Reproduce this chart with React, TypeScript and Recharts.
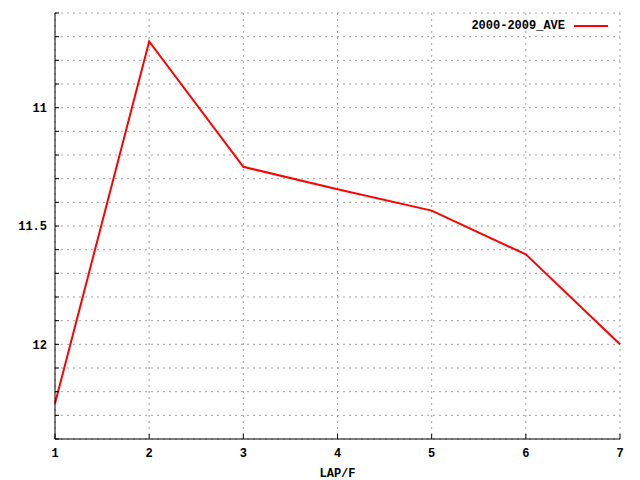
import React from "react";
import {
  LineChart,
  Line,
  XAxis,
  YAxis,
  CartesianGrid,
  Legend,
} from "recharts";

const FONT = "'Liberation Mono', 'DejaVu Sans Mono', monospace";

// laps on the x axis and the 2000-2009 average
const laps = [1, 2, 3, 4, 5, 6, 7];
const ave = [12.25, 10.72, 11.25, 11.345, 11.435, 11.62, 12.0];

const yTicks = [
  10.6, 10.7, 10.8, 10.9, 11, 11.1, 11.2, 11.3, 11.4, 11.5, 11.6, 11.7, 11.8,
  11.9, 12, 12.1, 12.2, 12.3, 12.4,
];
const yLabels = [11, 11.5, 12];
const seriesName = "2000-2009_AVE";

const data = laps.map((lap, i) => ({ lap, ave: ave[i] }));

const yFormat = (v: number) =>
  yLabels.some((m) => Math.abs(m - v) < 1e-6) ? String(v) : "";

const textStyle = {
  fill: "#000",
  fontSize: 12,
  fontFamily: FONT,
  fontWeight: "bold",
};

const LegendBox = () => (
  <div
    style={{
      display: "flex",
      alignItems: "center",
      fontFamily: FONT,
      fontSize: 12,
      fontWeight: "bold",
      color: "#000",
    }}
  >
    <span>{seriesName}</span>
    <svg width={34} height={4} style={{ marginLeft: 9 }}>
      <line x1={0} y1={2} x2={34} y2={2} stroke="#ff0000" strokeWidth={2} />
    </svg>
  </div>
);

const App = () => {
  return (
    <div style={{ position: "absolute", left: 0, top: 0 }}>
      <LineChart
        width={640}
        height={480}
        data={data}
        margin={{ top: 13, right: 20, bottom: 0, left: 0 }}
      >
        <CartesianGrid stroke="#a0a0a0" strokeDasharray="2 4" />
        <XAxis
          dataKey="lap"
          type="number"
          domain={[1, 7]}
          ticks={laps}
          height={41}
          stroke="#000"
          tickSize={-5}
          tickMargin={14}
          tick={textStyle}
          label={{
            value: "LAP/F",
            position: "insideBottom",
            offset: 3,
            ...textStyle,
          }}
        />
        <XAxis
          xAxisId="top"
          orientation="top"
          type="number"
          domain={[1, 7]}
          ticks={laps}
          height={0}
          stroke="#000"
          tickSize={-5}
          tick={false}
        />
        <YAxis
          type="number"
          domain={[10.6, 12.4]}
          reversed
          allowDataOverflow
          ticks={yTicks}
          interval={0}
          width={55}
          stroke="#000"
          tickSize={-4}
          tickMargin={12}
          tickFormatter={yFormat}
          tick={textStyle}
        />
        <YAxis
          yAxisId="right"
          orientation="right"
          type="number"
          domain={[10.6, 12.4]}
          reversed
          allowDataOverflow
          ticks={yTicks}
          interval={0}
          width={0}
          stroke="#000"
          tickSize={-4}
          tick={false}
        />
        <Legend
          layout="horizontal"
          verticalAlign="middle"
          align="center"
          content={<LegendBox />}
          wrapperStyle={{ top: 19, left: "auto", right: 32, width: "auto" }}
        />
        <Line
          type="linear"
          dataKey="ave"
          name={seriesName}
          stroke="#ff0000"
          strokeWidth={2}
          dot={false}
          isAnimationActive={false}
        />
      </LineChart>
    </div>
  );
};

export default App;
